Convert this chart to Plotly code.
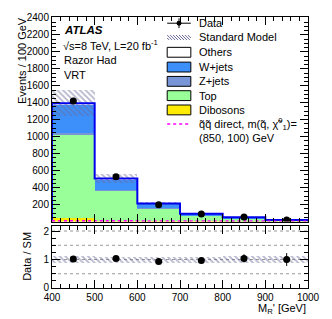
import numpy as np
import plotly.graph_objects as go

# ---------------- data ----------------
bin_edges = [400, 500, 600, 700, 800, 900, 1000]
dibosons = [40, 12, 5, 2, 1, 0.5]
top = [990, 354, 150, 72, 38, 14]
zjets = [15, 5, 2, 1, 1, 0.5]
wjets = [340, 130, 52, 15, 9, 4]
others = [10, 7, 3, 2, 2, 1]
sm_unc = [155, 55, 22, 10, 6, 2.5]
data = [1420, 528, 197, 89, 53, 20]
data_err = [38, 23, 14, 9.5, 7.3, 4.5]
signal = [8, 6, 5, 4, 3, 2]

x_tick_vals = [400, 500, 600, 700, 800, 900, 1000]
y_tick_vals = [200, 400, 600, 800, 1000, 1200, 1400, 1600, 1800, 2000, 2200, 2400]
r_tick_vals = [0, 1, 2]

# ---------------- derived ----------------
edges = np.array(bin_edges, dtype=float)
centers = 0.5 * (edges[:-1] + edges[1:])
widths = np.diff(edges)
stack = [("Dibosons", dibosons, "#ffec00"),
         ("Top", top, "#99ff99"),
         ("Z+jets", zjets, "#7896d7"),
         ("W+jets", wjets, "#3d8ff9"),
         ("Others", others, "#ffffff")]
sm = np.sum([np.array(s[1], float) for s in stack], axis=0)
unc = np.array(sm_unc, float)
d = np.array(data, float)
derr = np.array(data_err, float)
ratio = d / sm
ratio_err = derr / sm
rel_unc = unc / sm

W, H = 332, 319
L, R, T, B = 52, 20, 13, 31
PW, PH = W - L - R, H - T - B


def px(x):
    return (x - L) / PW


def py(y):
    return (H - B - y) / PH


fig = go.Figure()

base = np.zeros(len(centers))
for name, vals, col in stack:
    v = np.array(vals, float)
    fig.add_trace(go.Bar(x=centers, y=v, base=base.copy(), width=widths,
                         marker=dict(color=col, line=dict(width=0)),
                         xaxis="x", yaxis="y", showlegend=False, name=name))
    base += v

hatch = dict(shape="\\", fgcolor="#6a6a9a", bgcolor="rgba(0,0,0,0)",
             size=4, solidity=0.45, fillmode="overlay")
fig.add_trace(go.Bar(x=centers, y=2 * unc, base=sm - unc, width=widths,
                     marker=dict(color="rgba(0,0,0,0)", pattern=hatch, line=dict(width=0)),
                     xaxis="x", yaxis="y", showlegend=False))

# SM outline
sx = [edges[0]] + list(edges[:-1]) + [edges[-1], edges[-1]]
sy = [0] + list(sm) + [sm[-1], 0]
fig.add_trace(go.Scatter(x=sx, y=sy, mode="lines", line=dict(color="#0000ee", width=2, shape="hv"),
                         xaxis="x", yaxis="y", showlegend=False))
# signal
gx = list(edges)
gy = list(signal) + [signal[-1]]
fig.add_trace(go.Scatter(x=gx, y=gy, mode="lines",
                         line=dict(color="#ff00ff", width=2, dash="dot", shape="hv"),
                         xaxis="x", yaxis="y", showlegend=False))
# data
fig.add_trace(go.Scatter(x=centers, y=d, mode="markers",
                         marker=dict(color="black", size=7),
                         error_y=dict(type="data", array=derr, color="black", thickness=1, width=0),
                         xaxis="x", yaxis="y", showlegend=False))

# ratio band
fig.add_trace(go.Bar(x=centers, y=2 * rel_unc, base=1 - rel_unc, width=widths,
                     marker=dict(color="rgba(0,0,0,0)", pattern=hatch, line=dict(width=0)),
                     xaxis="x2", yaxis="y2", showlegend=False))
fig.add_trace(go.Scatter(x=centers, y=ratio, mode="markers",
                         marker=dict(color="black", size=7),
                         error_y=dict(type="data", array=ratio_err, color="black", thickness=1, width=0),
                         xaxis="x2", yaxis="y2", showlegend=False))

shapes = []
for g in [0.5, 1.0, 1.5, 2.0]:
    shapes.append(dict(type="line", xref="x2 domain", yref="y2", x0=0, x1=1, y0=g, y1=g,
                       line=dict(color="#999999", width=1, dash="dot"), layer="below"))

# ---------------- manual legend ----------------
lx0, lx1 = 169, 193
tx = 199
rows = {"Data": 19.3, "Standard Model": 33.8, "Others": 48.8, "W+jets": 63.8,
        "Z+jets": 78.3, "Top": 92.8, "Dibosons": 107.3, "sig": 121.5}
ann = []
font = dict(family="Liberation Sans, Arial, sans-serif", size=11, color="black")


def txt(x, y, s, **kw):
    d_ = dict(xref="paper", yref="paper", x=px(x), y=py(y), text=s, showarrow=False,
              xanchor="left", yanchor="middle", font=font)
    d_.update(kw)
    ann.append(d_)


# Data entry
yc = rows["Data"]
shapes.append(dict(type="line", xref="paper", yref="paper", x0=px(lx0), x1=px(lx1), y0=py(yc), y1=py(yc),
                   line=dict(color="black", width=1)))
shapes.append(dict(type="line", xref="paper", yref="paper", x0=px(181), x1=px(181), y0=py(yc - 5), y1=py(yc + 5),
                   line=dict(color="black", width=1)))
shapes.append(dict(type="circle", xref="paper", yref="paper", x0=px(178.5), x1=px(183.5),
                   y0=py(yc + 2.5), y1=py(yc - 2.5), fillcolor="black", line=dict(color="black", width=0)))
txt(tx, yc, "Data")
# SM hatch entry
yc = rows["Standard Model"]
for k in range(-4, 9):
    xa = lx0 + 3 * k
    xb = xa + 5
    ya, yb = yc - 2.5, yc + 2.5
    if xa < lx0:
        ya += (lx0 - xa); xa = lx0
    if xb > lx1:
        yb -= (xb - lx1); xb = lx1
    if xb > xa:
        shapes.append(dict(type="line", xref="paper", yref="paper", x0=px(xa), x1=px(xb),
                           y0=py(ya), y1=py(yb), line=dict(color="#6a6a9a", width=1)))
txt(tx, yc, "Standard Model")
for name, col in [("Others", "#ffffff"), ("W+jets", "#3d8ff9"), ("Z+jets", "#7896d7"),
                  ("Top", "#99ff99"), ("Dibosons", "#ffec00")]:
    yc = rows[name]
    shapes.append(dict(type="rect", xref="paper", yref="paper", x0=px(lx0), x1=px(lx1),
                       y0=py(yc + 5), y1=py(yc - 5), fillcolor=col, line=dict(color="black", width=1)))
    txt(tx, yc, name)
yc = rows["sig"]
shapes.append(dict(type="line", xref="paper", yref="paper", x0=px(lx0), x1=px(lx1), y0=py(yc), y1=py(yc),
                   line=dict(color="#ff00ff", width=1.5, dash="dot")))
txt(tx, yc, "q̃q̃ direct, m(q̃, χ̃<sup>0</sup><sub>1</sub>)=")
txt(tx, 135.5, "(850, 100) GeV")

# ATLAS labels
txt(62, 26, "<b><i>ATLAS</i></b>", font=dict(family="Liberation Sans, Arial, sans-serif", size=11.5, color="black"))
txt(61, 41.5, "√s=8 TeV, L=20 fb<sup>-1</sup>")
txt(62, 56.5, "Razor Had")
txt(62, 71.5, "VRT")

# axis titles
ann.append(dict(xref="paper", yref="paper", x=px(21), y=py(11), text="Events / 100 GeV", showarrow=False,
                textangle=-90, xanchor="center", yanchor="top", font=font))
ann.append(dict(xref="paper", yref="paper", x=px(27), y=py(256), text="Data / SM", showarrow=False,
                textangle=-90, xanchor="center", yanchor="middle", font=font))
ann.append(dict(xref="paper", yref="paper", x=1, y=py(309), text="M<sub>R</sub>' [GeV]", showarrow=False,
                xanchor="right", yanchor="middle", font=font))

axis_common = dict(showline=True, linecolor="black", linewidth=1, mirror="allticks",
                   ticks="inside", tickcolor="black", showgrid=False, zeroline=False,
                   tickfont=dict(family="Liberation Sans, Arial, sans-serif", size=10, color="black"))

fig.update_layout(
    width=W, height=H, margin=dict(l=L, r=R, t=T, b=B),
    paper_bgcolor="white", plot_bgcolor="white",
    barmode="overlay", bargap=0, showlegend=False,
    xaxis=dict(domain=[0, 1], anchor="y", range=[400, 1000], tickvals=x_tick_vals,
               showticklabels=False, ticklen=8,
               minor=dict(ticks="inside", ticklen=4, dtick=20, tickcolor="black"), **axis_common),
    yaxis=dict(domain=[py(220.6), 1], anchor="x", range=[0, 2410], tickvals=y_tick_vals,
               ticklen=8, minor=dict(ticks="inside", ticklen=4, dtick=50, tickcolor="black"),
               **axis_common),
    xaxis2=dict(domain=[0, 1], anchor="y2", range=[400, 1000], tickvals=x_tick_vals, ticklen=8,
                minor=dict(ticks="inside", ticklen=4, dtick=20, tickcolor="black"), **axis_common),
    yaxis2=dict(domain=[0, py(225)], anchor="x2", range=[0, 2.18], tickvals=r_tick_vals,
                ticklen=8, minor=dict(ticks="inside", ticklen=4, dtick=0.25, tickcolor="black"),
                **axis_common),
    shapes=shapes, annotations=ann,
)

fig.write_html("out.html", config={"displayModeBar": False})
with open("out.html", "r", encoding="utf-8") as f:
    html = f.read()
html = html.replace("<head>", "<head><style>html,body{margin:0;padding:0;overflow:hidden;}</style>", 1)
with open("out.html", "w", encoding="utf-8") as f:
    f.write(html)
